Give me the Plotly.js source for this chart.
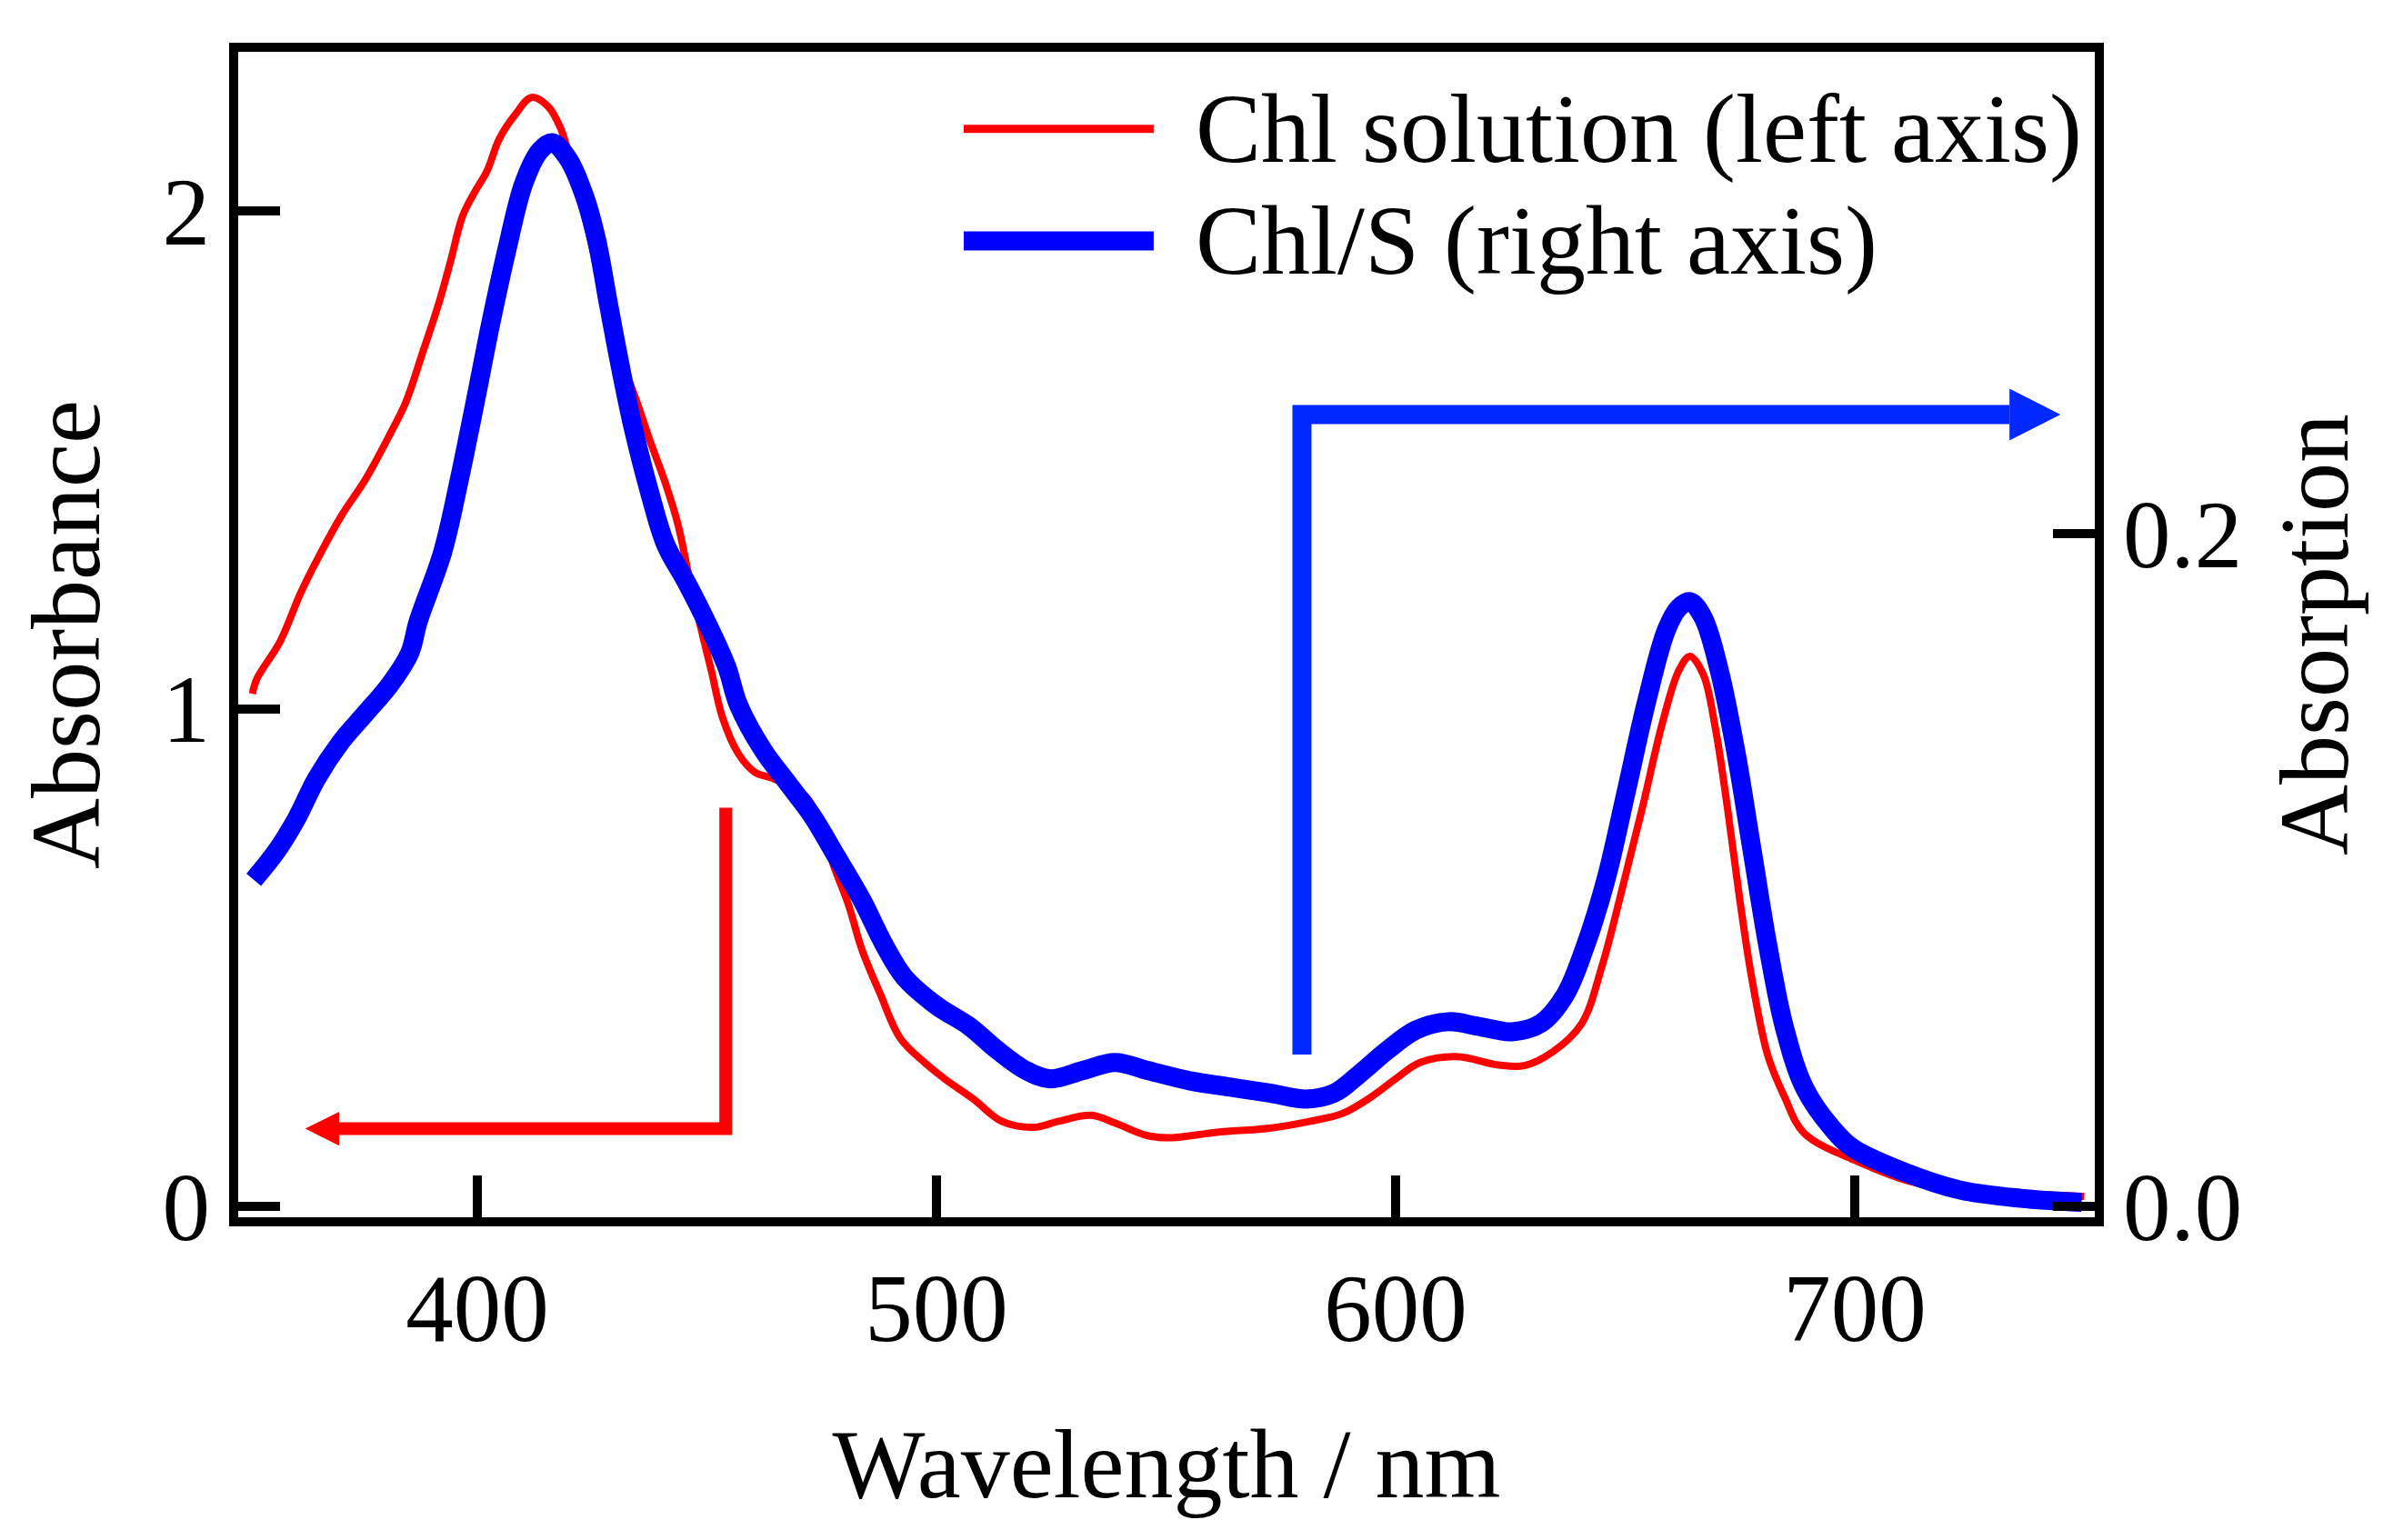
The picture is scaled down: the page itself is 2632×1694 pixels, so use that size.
<!DOCTYPE html>
<html>
<head>
<meta charset="utf-8">
<script src="https://cdn.plot.ly/plotly-3.0.1.min.js"></script>
<style>
  html, body { margin: 0; padding: 0; background: #fff; }
  #chart { width: 2632px; height: 1694px; }
</style>
</head>
<body>
<div id="chart"></div>
<script>
// Chl in solution, left axis (absorbance)
const redX = [351, 352, 357, 361.5, 365, 370.3, 375.6, 380.9, 384.4, 388, 391.5, 394.2, 396.8, 399.5,
  402.1, 404.8, 408.3, 411.8, 415.4, 418, 420.7, 425.1, 428.6, 432.2, 434.8, 437.5, 441, 443.7, 446.3,
  449, 451, 453.4, 456.9, 460.5, 464, 468, 472, 478.1, 480.8, 483.8, 487.7, 492.1, 497.4, 501.8, 508,
  514.2, 521.3, 526.6, 533.7, 539, 546, 551.3, 561.1, 572.6, 581.4, 588.5, 594.7, 600, 605.3, 613.2,
  622.5, 628.1, 634.3, 640.5, 644.9, 649.3, 653.7, 658.1, 661.7, 664.1, 667, 669.6, 672.3, 674.9,
  677.6, 681.1, 684.7, 689, 701.2, 712.9, 725, 738, 750];
const redY = [1.03, 1.06, 1.134, 1.232, 1.297, 1.386, 1.46, 1.55, 1.615, 1.713, 1.811, 1.9, 1.99, 2.039,
  2.08, 2.145, 2.194, 2.228, 2.21, 2.169, 2.088, 1.925, 1.778, 1.68, 1.615, 1.541, 1.452, 1.37, 1.257,
  1.15, 1.075, 0.982, 0.909, 0.872, 0.861, 0.845, 0.819, 0.672, 0.607, 0.515, 0.428, 0.338, 0.289, 0.256, 0.216,
  0.171, 0.159, 0.171, 0.183, 0.167, 0.142, 0.138, 0.149, 0.157, 0.171, 0.187, 0.22, 0.256, 0.289, 0.301,
  0.284, 0.283, 0.311, 0.367, 0.481, 0.636, 0.799, 0.971, 1.077, 1.105, 1.069, 0.963, 0.799, 0.62,
  0.457, 0.302, 0.22, 0.147, 0.088, 0.048, 0.033, 0.025, 0.02];

// Chl/S, right axis (absorption)
const blueX = [351.3, 356.2, 360.6, 365, 370.3, 375.6, 380.9, 385.3, 387.1, 392.4, 395.9, 399.5, 403,
  406.5, 410.1, 413.6, 416.3, 419.8, 423.3, 426, 428.6, 431.3, 433.9, 437.5, 441, 445.4, 449.9, 454.3,
  456.9, 462.2, 467.5, 472.8, 478.1, 483.8, 488.6, 493, 500.1, 507.1, 513.3, 519.5, 524.8, 531.9, 538.9,
  546, 554.9, 563.7, 572.6, 580.5, 586.7, 592, 598.2, 604.4, 611.5, 617.6, 622.1, 625.4, 631.6, 636.9,
  641.3, 645.7, 650.2, 654.6, 659, 661.7, 664.1, 667, 670.5, 674.1, 677.6, 681.1, 684.7, 689.1, 695.2,
  699.6, 711.2, 722.8, 736.1, 749.4];
const blueY = [0.0971, 0.1055, 0.1152, 0.1272, 0.1381, 0.1465, 0.155, 0.1646, 0.1738, 0.1943, 0.2149,
  0.2389, 0.263, 0.2848, 0.3041, 0.3138, 0.3162, 0.3114, 0.3005, 0.2872, 0.268, 0.2486, 0.2317, 0.2124,
  0.1968, 0.1859, 0.1738, 0.1605, 0.149, 0.1357, 0.126, 0.1164, 0.1043, 0.091, 0.0778, 0.0681, 0.0596,
  0.0536, 0.0464, 0.0404, 0.0379, 0.0404, 0.0428, 0.0404, 0.0374, 0.0355, 0.0337, 0.0319, 0.0337, 0.0392,
  0.0464, 0.0524, 0.0549, 0.0536, 0.0524, 0.0519, 0.0544, 0.0628, 0.0773, 0.0966, 0.1231, 0.1497, 0.1714,
  0.178, 0.1798, 0.175, 0.1593, 0.1352, 0.1062, 0.0773, 0.0531, 0.0351, 0.023, 0.0173, 0.01, 0.0049,
  0.0024, 0.0012];

const seriesNames = ['Chl solution (left axis)', 'Chl/S (right axis)'];
const xTicks = [400, 500, 600, 700];
const leftTicks = [0, 1, 2];
const rightTicks = [0, 0.2];
const rightTickText = ['0.0', '0.2'];

const RED = '#ff0000';
const BLUE = '#0000ff';
const ARROW_BLUE = '#0028ff';
const FONT = 'Liberation Serif, Times New Roman, serif';

const traces = [
  {
    x: redX, y: redY, type: 'scatter', mode: 'lines', name: seriesNames[0],
    line: { color: RED, width: 8, shape: 'spline', smoothing: 1 }
  },
  {
    x: blueX, y: blueY, type: 'scatter', mode: 'lines', name: seriesNames[1], yaxis: 'y2',
    line: { color: BLUE, width: 21, shape: 'spline', smoothing: 1 }
  }
];

const axisCommon = {
  showline: true, linewidth: 10, linecolor: '#000',
  ticks: 'inside', ticklen: 46, tickwidth: 10, tickcolor: '#000',
  showgrid: false, zeroline: false,
  tickfont: { family: FONT, size: 105, color: '#000' }
};

const shapes = [
  // left-pointing red arrow (refers to the left axis)
  { type: 'path', xref: 'x', yref: 'y', path: 'M454.1,0.801 L454.1,0.156 L369.9,0.156',
    line: { color: RED, width: 14 } },
  { type: 'path', xref: 'x', yref: 'y', path: 'M362.5,0.156 L369.9,0.190 L369.9,0.122 Z',
    fillcolor: RED, line: { width: 0 } },
  // right-pointing blue arrow (refers to the right axis)
  { type: 'path', xref: 'x', yref: 'y', path: 'M579.6,0.305 L579.6,1.591 L733.7,1.591',
    line: { color: ARROW_BLUE, width: 21 } },
  { type: 'path', xref: 'x', yref: 'y', path: 'M744.8,1.591 L733.7,1.643 L733.7,1.539 Z',
    fillcolor: ARROW_BLUE, line: { width: 0 } },
  // legend samples
  { type: 'line', xref: 'paper', yref: 'paper', x0: 0.3908, x1: 0.4931, y0: 0.9339, y1: 0.9339,
    line: { color: RED, width: 9 } },
  { type: 'line', xref: 'paper', yref: 'paper', x0: 0.3908, x1: 0.4931, y0: 0.8378, y1: 0.8378,
    line: { color: BLUE, width: 21 } }
];

const annotations = seriesNames.map((name, i) => ({
  text: name, xref: 'paper', yref: 'paper', x: 0.5147, y: i === 0 ? 0.9339 : 0.8378,
  xanchor: 'left', yanchor: 'middle', showarrow: false,
  font: { family: FONT, size: 108, color: '#000' }
}));

const layout = {
  width: 2632,
  height: 1694,
  margin: { l: 262, r: 328, t: 57, b: 355 },
  paper_bgcolor: '#fff',
  plot_bgcolor: '#fff',
  showlegend: false,
  xaxis: Object.assign({}, axisCommon, {
    range: [347.92, 752.28], tickvals: xTicks, mirror: true,
    title: { text: 'Wavelength / nm', font: { family: FONT, size: 108, color: '#000' }, standoff: 78 }
  }),
  yaxis: Object.assign({}, axisCommon, {
    range: [-0.0219, 2.3196], tickvals: leftTicks, mirror: true,
    title: { text: 'Absorbance', font: { family: FONT, size: 108, color: '#000' }, standoff: 37 }
  }),
  yaxis2: Object.assign({}, axisCommon, {
    range: [-0.00324, 0.34324], tickvals: rightTicks, ticktext: rightTickText,
    overlaying: 'y', side: 'right',
    title: { text: 'Absorption', font: { family: FONT, size: 108, color: '#000' }, standoff: 45 }
  }),
  shapes: shapes,
  annotations: annotations
};

Plotly.newPlot('chart', traces, layout, { displayModeBar: false, staticPlot: true });
</script>
</body>
</html>
